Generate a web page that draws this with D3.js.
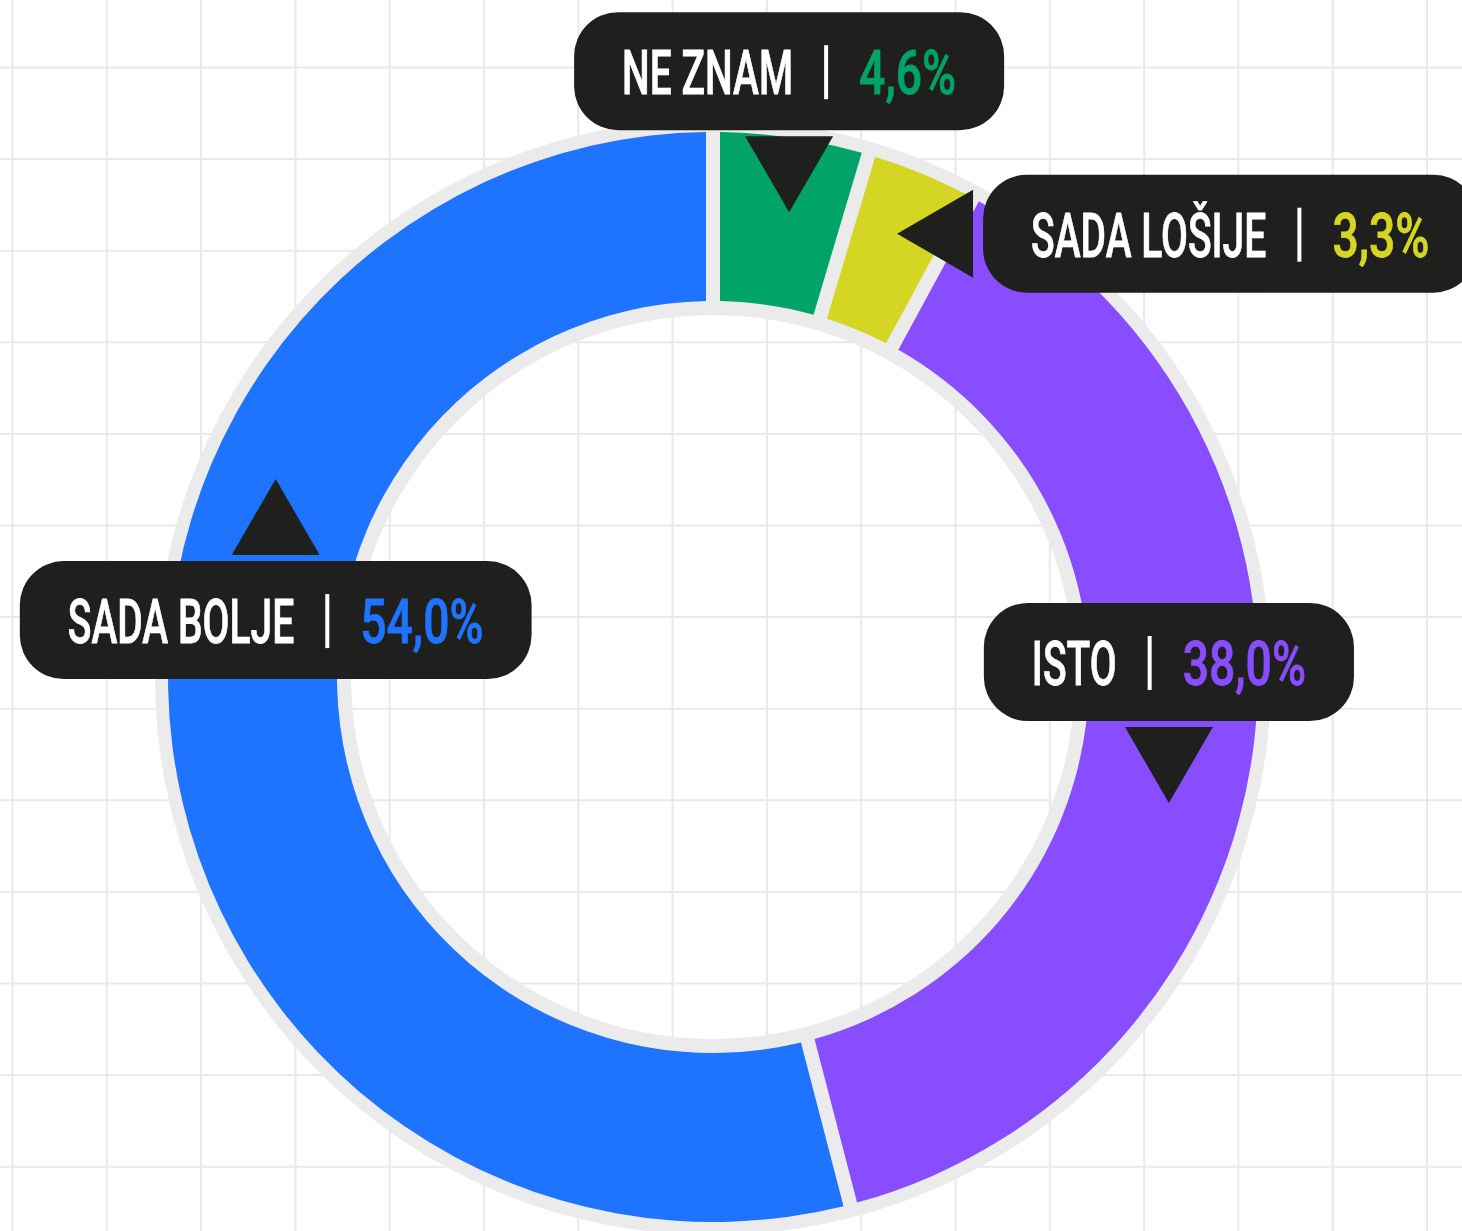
<!DOCTYPE html>
<html>
<head>
<meta charset="utf-8">
<script src="https://cdn.jsdelivr.net/npm/d3@7"></script>
<style>
  html, body { margin: 0; padding: 0; background: #ffffff; }
  svg { display: block; }
</style>
</head>
<body>
<svg id="chart" width="1462" height="1231"></svg>
<script>
// ---- data ----
const categories = ["NE ZNAM", "SADA LOŠIJE", "ISTO", "SADA BOLJE"];
const values = [4.6, 3.3, 38.0, 54.0];
const valueLabels = ["4,6%", "3,3%", "38,0%", "54,0%"];
const colors = ["#00a368", "#d4d623", "#884dff", "#1e73ff"];

// ---- label placement (annotation layout, degrees clockwise from top) ----
const labelAngles = [9.3, 22.55, 105.45, 294.35];
const labelRadii = [471, 480, 473, 480];
const labelDirs = ["down", "left", "down", "up"];

const W = 1462, H = 1231;
const cx = 713, cy = 677;
const svg = d3.select("#chart");

// background grid
const gx = d3.range(0, 16).map(k => 12.5 + 94.3 * k);
const gy = d3.range(0, 13).map(k => 67.5 + 91.6 * k);
const grid = svg.append("g").attr("stroke", "#e9e9e9").attr("stroke-width", 2);
grid.selectAll("line.v").data(gx).join("line").attr("class", "v")
  .attr("x1", d => d).attr("x2", d => d).attr("y1", 0).attr("y2", H);
grid.selectAll("line.h").data(gy).join("line").attr("class", "h")
  .attr("y1", d => d).attr("y2", d => d).attr("x1", 0).attr("x2", W);

const g = svg.append("g").attr("transform", `translate(${cx},${cy})`);

// grey ring behind
g.append("path")
  .attr("d", d3.arc().innerRadius(362).outerRadius(558).startAngle(0).endAngle(2 * Math.PI)())
  .attr("fill", "#ebebeb");

const pie = d3.pie().sort(null).value(d => d.v);
const data = categories.map((c, i) => ({ c, v: values[i], lab: valueLabels[i], col: colors[i] }));
const arcs = pie(data);
const arc = d3.arc().innerRadius(376).outerRadius(545).padRadius(545).padAngle(14 / 545);

g.selectAll("path.slice").data(arcs).join("path").attr("class", "slice")
  .attr("d", arc).attr("fill", d => d.data.col);

// labels
const fontFamily = "Roboto, 'Liberation Sans', sans-serif";
const fontWeight = 500;
const fontSize = 61;
const strokeW = 0.8;
// calibrate horizontal condensing
const probe = svg.append("text").attr("font-family", fontFamily).attr("font-size", fontSize)
  .attr("font-weight", fontWeight).text("NE ZNAM");
const sx = 171 / probe.node().getComputedTextLength();
probe.text("4,6%");
const sxVal = 97 / probe.node().getComputedTextLength();
probe.remove();

const labels = svg.append("g");
data.forEach((d, i) => {
  const a = labelAngles[i] * Math.PI / 180;
  const r = labelRadii[i];
  const tx = cx + r * Math.sin(a), ty = cy - r * Math.cos(a);
  const dir = labelDirs[i];
  const lg = labels.append("g");

  const tmp = lg.append("text").attr("font-family", fontFamily).attr("font-size", fontSize).attr("font-weight", fontWeight);
  tmp.text(d.c);
  const nameW = tmp.node().getComputedTextLength() * sx;
  tmp.text(d.lab);
  const valW = tmp.node().getComputedTextLength() * sxVal;
  tmp.remove();

  const pad = 48, gap = 31, barW = 4;
  const boxW = pad + nameW + gap + barW + gap + valW + pad;
  const boxH = 118;
  let tri, bx, by;
  if (dir === "down") {
    tri = [[tx - 44, ty - 76], [tx + 44, ty - 76], [tx, ty]];
    bx = tx - boxW / 2; by = ty - 76 - 6 - boxH;
  } else if (dir === "up") {
    tri = [[tx - 44, ty + 76], [tx + 44, ty + 76], [tx, ty]];
    bx = tx - boxW / 2; by = ty + 76 + 6;
  } else {
    tri = [[tx + 76, ty - 44], [tx + 76, ty + 44], [tx, ty]];
    bx = tx + 86; by = ty - boxH / 2;
  }
  lg.append("path").attr("d", d3.line()(tri) + "Z").attr("fill", "#1f1f1e");
  lg.append("rect").attr("x", bx).attr("y", by).attr("width", boxW).attr("height", boxH)
    .attr("rx", 44).attr("ry", 44).attr("fill", "#1f1f1e");

  const base = by + boxH / 2 + 23;
  const x0 = bx + pad;
  lg.append("text").attr("font-family", fontFamily).attr("font-size", fontSize).attr("font-weight", fontWeight)
    .attr("fill", "#ffffff").attr("stroke", "#ffffff").attr("stroke-width", strokeW)
    .attr("transform", `translate(${x0},${base}) scale(${sx},1)`).text(d.c);
  lg.append("rect").attr("x", x0 + nameW + gap).attr("y", base - 49).attr("width", barW).attr("height", 54)
    .attr("fill", "#ffffff");
  lg.append("text").attr("font-family", fontFamily).attr("font-size", fontSize).attr("font-weight", fontWeight)
    .attr("fill", d.col).attr("stroke", d.col).attr("stroke-width", strokeW)
    .attr("transform", `translate(${x0 + nameW + gap + barW + gap},${base}) scale(${sxVal},1)`).text(d.lab);
});
</script>
</body>
</html>
